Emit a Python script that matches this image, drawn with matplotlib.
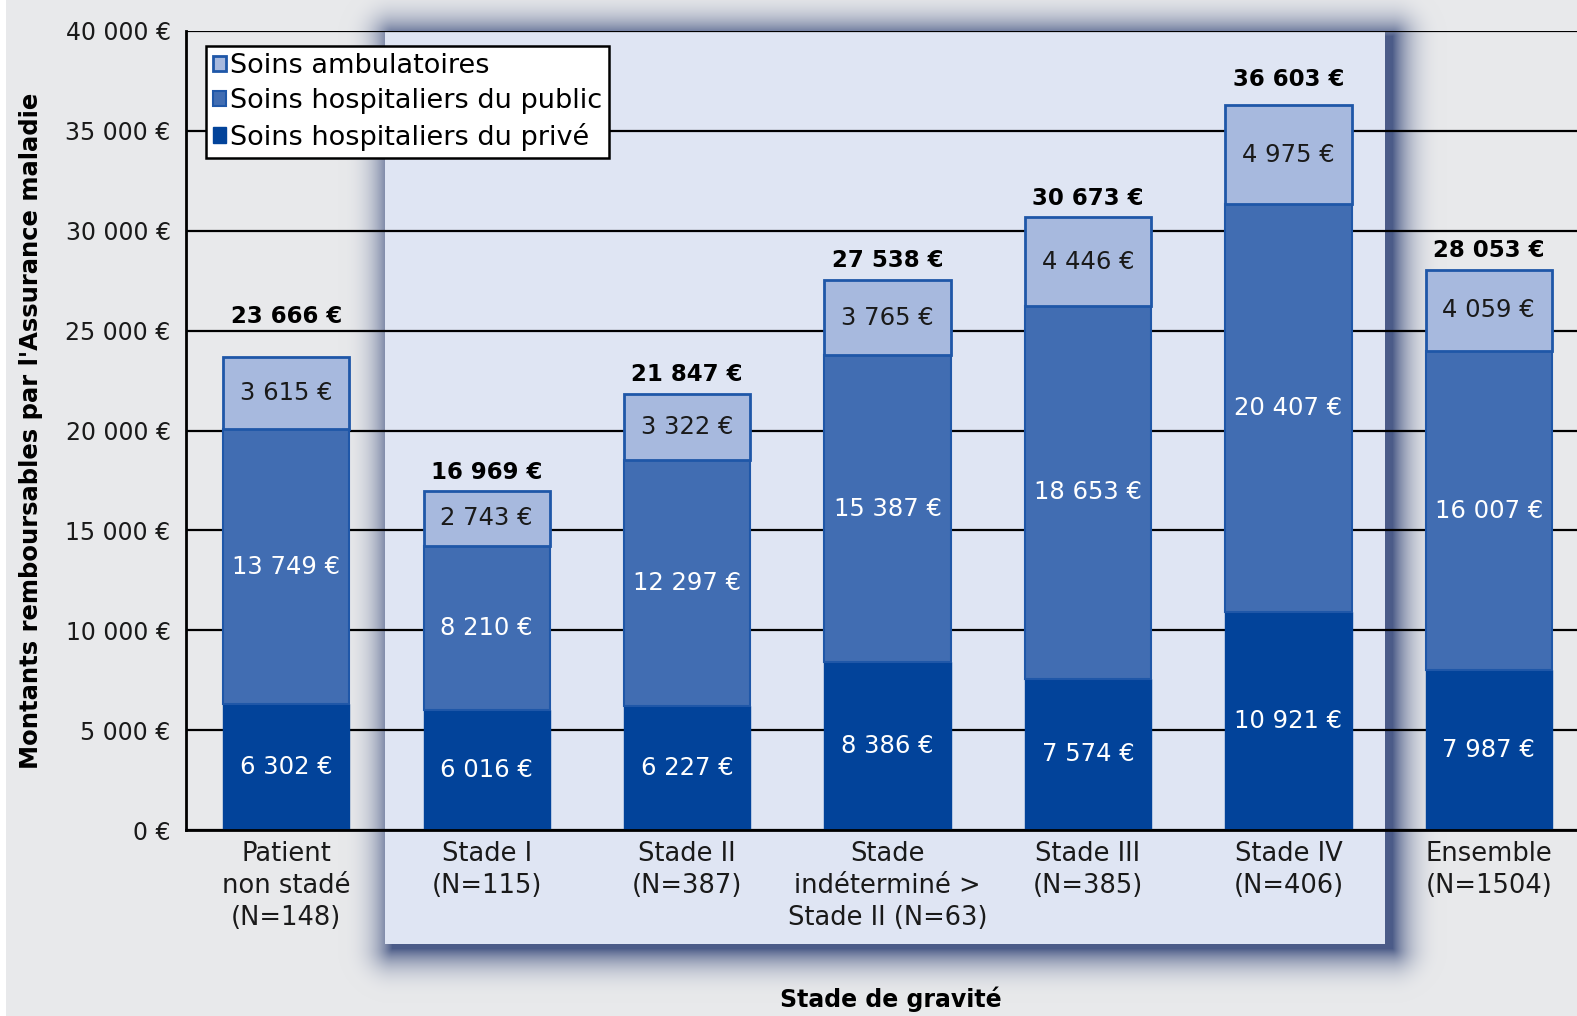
import numpy as np
import matplotlib
matplotlib.use("Agg")
import matplotlib.pyplot as plt

# Data
categories = ["Patient\nnon stadé\n(N=148)", "Stade I\n(N=115)", "Stade II\n(N=387)",
              "Stade\nindéterminé >\nStade II (N=63)", "Stade III\n(N=385)",
              "Stade IV\n(N=406)", "Ensemble\n(N=1504)"]
prive = [6302, 6016, 6227, 8386, 7574, 10921, 7987]
public = [13749, 8210, 12297, 15387, 18653, 20407, 16007]
ambulatoire = [3615, 2743, 3322, 3765, 4446, 4975, 4059]
totals = [23666, 16969, 21847, 27538, 30673, 36603, 28053]
yticks = [0, 5000, 10000, 15000, 20000, 25000, 30000, 35000, 40000]

plt.rcParams['font.family'] = ['DejaVu Sans']

W, H = 1577, 1016
bg = np.array([232, 233, 235]) / 255
panel = np.array([223, 229, 243]) / 255
shadow = np.array([58, 76, 125]) / 255


def euro(v):
    return f"{v:,}".replace(",", " ") + " €"


# background with the shaded panel (soft drop shadow)
yy, xx = np.mgrid[0:H, 0:W]
sx0, sx1, sy0, sy1 = 392, 1392, 36, 948
dx = np.maximum(np.maximum(sx0 - xx, xx - sx1), 0)
dy = np.maximum(np.maximum(sy0 - yy, yy - sy1), 0)
d = np.sqrt(dx ** 2 + dy ** 2)
a = 0.9 * np.clip(1 - d / 55, 0, 1) ** 2.8
img = bg[None, None, :] * (1 - a[..., None]) + shadow[None, None, :] * a[..., None]
inside = (xx >= 385) & (xx <= 1384) & (yy >= 31) & (yy <= 943)
img[inside] = panel
img[:, :6] = 1.0

fig = plt.figure(figsize=(W / 100, H / 100), dpi=100)
bax = fig.add_axes([0, 0, 1, 1], zorder=0)
bax.imshow(img, extent=(0, W, H, 0), aspect='auto', interpolation='bilinear')
bax.axis('off')

ax = fig.add_axes([186 / W, (H - 830) / H, (W - 186) / W, (830 - 31) / H], zorder=1)
ax.set_facecolor('none')

x = np.arange(len(categories))
w = 0.63
c_prive, c_public, c_ambu = '#02439a', '#416db2', '#a7b9de'
edge = '#1f57a8'

b1 = ax.bar(x, prive, w, color=c_prive, edgecolor=c_prive, lw=1, zorder=3,
            label='Soins hospitaliers du privé')
b2 = ax.bar(x, public, w, bottom=prive, color=c_public, edgecolor=edge, lw=1.5, zorder=3,
            label='Soins hospitaliers du public')
base2 = np.array(prive) + np.array(public)
b3 = ax.bar(x, ambulatoire, w, bottom=base2, color=c_ambu, edgecolor=edge, lw=2, zorder=3,
            label='Soins ambulatoires')

fs = 17.5
for i in x:
    ax.text(i, prive[i] / 2, euro(prive[i]), ha='center', va='center', color='white',
            fontsize=fs, zorder=4)
    ax.text(i, prive[i] + public[i] / 2, euro(public[i]), ha='center', va='center',
            color='white', fontsize=fs, zorder=4)
    ax.text(i, base2[i] + ambulatoire[i] / 2, euro(ambulatoire[i]), ha='center', va='center',
            color='#1a1a1a', fontsize=fs, zorder=4)
    # total above the bar, nudged up when it would sit on a gridline
    ty = totals[i] + 950
    if abs(ty - round(ty / 5000) * 5000) < 700:
        ty = round(ty / 5000) * 5000 + 700
    ax.text(i, ty, euro(totals[i]), ha='center', va='center', color='black',
            fontsize=16.5, fontweight='bold', zorder=4)

ax.set_xlim(-0.5, 6.44)
ax.set_ylim(0, 40000)
ax.set_yticks(yticks)
ax.set_yticklabels([euro(v) for v in yticks], fontsize=17, color='#1a1a1a')
ax.set_xticks(x)
ax.set_xticklabels(categories, fontsize=18.5, color='#1a1a1a', linespacing=1.3)
ax.tick_params(length=0, axis='y', pad=11)
ax.tick_params(length=0, axis='x', pad=8)
ax.grid(axis='y', color='black', lw=1.6, zorder=1)
ax.set_axisbelow(True)
for s in ['top', 'right']:
    ax.spines[s].set_visible(False)
for s in ['left', 'bottom']:
    ax.spines[s].set_linewidth(2)
    ax.spines[s].set_zorder(5)

ax.set_ylabel("Montants remboursables par l'Assurance maladie", fontsize=17.5,
              fontweight='bold', labelpad=16)
fig.text(891 / W, 1 - 999 / H, 'Stade de gravité', ha='center', va='center',
         fontsize=17, fontweight='bold')

leg = ax.legend(handles=[b3, b2, b1], loc='upper left', bbox_to_anchor=(0.0144, 0.981),
                borderaxespad=0, fontsize=19.5, frameon=True, fancybox=False,
                handlelength=0.5, handleheight=0.5, handletextpad=0.15,
                borderpad=0.25, labelspacing=0.33, framealpha=1)
leg.get_frame().set_edgecolor('black')
leg.get_frame().set_linewidth(1.8)
leg.set_zorder(6)

fig.savefig('out.png', dpi=100, facecolor=fig.get_facecolor())
